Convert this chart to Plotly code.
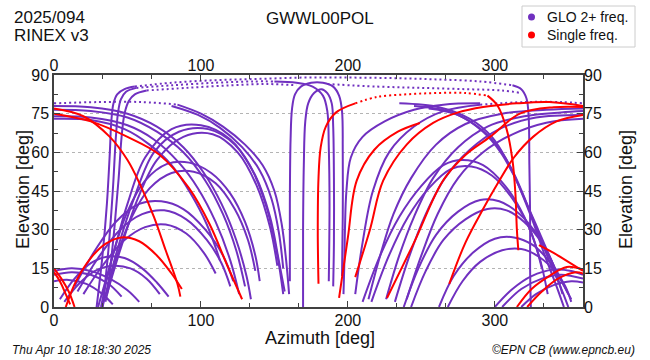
import plotly.graph_objects as go

PURPLE = "#7030c0"
RED = "#ff0000"
FONT = "Liberation Sans, Arial, sans-serif"

# ---- data: (azimuth deg, elevation deg) knots ----
glo_tracks = [
    [(0, 78), (25, 77.5), (50, 75), (70, 70), (88, 62), (102, 52), (114, 40), (124, 26), (131, 12), (134, 3)],
    [(0, 76.5), (25, 76), (50, 73.5), (70, 68), (88, 60), (103, 49), (115, 36), (124, 22), (130, 8)],
    [(0, 74), (25, 73.5), (50, 70.5), (68, 65), (85, 56), (98, 46), (110, 33), (120, 18), (126, 5)],
    [(0, 73), (25, 72.5), (48, 69), (65, 63), (80, 55), (93, 44), (104, 32), (113, 18)],
    [(84, 78.5), (100, 75), (115, 70), (130, 63), (142, 55), (150, 45), (155, 32), (158, 18), (160, 5)],
    [(80, 78), (98, 74.5), (113, 69.5), (128, 62), (140, 53), (148, 42), (153, 29), (156, 15)],
    [(29, 0), (33, 20), (36, 40), (38, 60), (39, 72), (40.5, 79), (43, 82.5), (48, 84.5), (55, 85.5)],
    [(312, 86), (318, 84.5), (321.5, 81), (323, 74), (323.5, 55), (324, 35), (324, 15), (324.5, 0)],
    [(33, 0), (37, 22), (40, 45), (42, 65), (43.5, 75), (45.5, 80.5), (49, 83.5), (56, 85)],
    [(37, 8), (41, 30), (44, 50), (46, 66), (48, 75), (51, 80), (55, 82.5), (63, 84)],
    # central overhead loops
    [(160.5, 10), (160.5, 40), (161, 65), (162, 77), (164, 82.5), (168, 85.5), (175, 87), (183, 87),
     (190, 85.5), (194, 82), (196, 76), (196.5, 60), (196.5, 35), (196, 12)],
    [(169.5, 0), (169.5, 30), (170, 55), (171, 72), (173, 79), (177, 83), (182, 84.5), (186, 83),
     (189, 79), (190, 70), (190.5, 50), (190.5, 25), (190, 8)],
    [(150, 87.5), (165, 87), (176, 85.5), (183, 82), (186, 76), (187, 62), (187.5, 40), (187, 10)],
    [(290, 79), (265, 78.5), (245, 76.5), (225, 72), (210, 66), (202, 58), (199, 45), (198, 30), (197.5, 15), (197, 5)],
    # left domes
    [(30, 0), (40, 20), (50, 40), (62, 58), (80, 69), (100, 70.5), (120, 65), (135, 53), (145, 38), (152, 20), (156, 5)],
    [(33, 0), (43, 22), (55, 43), (68, 60), (85, 68), (105, 69), (123, 63), (137, 51), (147, 35), (153, 18), (157, 6)],
    [(36, 5), (45, 22), (57, 42), (70, 57), (88, 66), (108, 67), (125, 60), (138, 47), (147, 31), (152, 16)],
    [(32, 0), (40, 20), (50, 37), (62, 49), (77, 55.5), (92, 56), (107, 52), (120, 44), (130, 33), (137, 20), (140, 10)],
    [(35, 2), (43, 20), (53, 35), (65, 46), (80, 52), (95, 52.5), (110, 48), (123, 38), (132, 26), (137, 14)],
    [(14, 8), (28, 22), (42, 33), (58, 40), (73, 41), (88, 38), (103, 30), (115, 20), (122, 10)],
    [(16, 6), (30, 19), (45, 30), (60, 36), (75, 37.5), (90, 34), (104, 26), (114, 17), (120, 8)],
    [(20, 5), (33, 16), (48, 26), (62, 31), (76, 32), (90, 28.5), (102, 21), (110, 13)],
    # left low arcs
    [(0, 14), (12, 15), (25, 14), (38, 11), (50, 6.5), (58, 2)],
    [(0, 12.5), (12, 13.5), (25, 12.5), (37, 9), (46, 4)],
    [(0, 10), (10, 10.5), (22, 9), (33, 5), (40, 1)],
    [(4, 3), (14, 11), (25, 17), (36, 19.5), (48, 19), (60, 15), (70, 9.5), (78, 4)],
    [(7, 2), (17, 9), (28, 14), (40, 16), (52, 15), (63, 11), (72, 5)],
    # right domes
    [(210, 2), (222, 20), (235, 35), (250, 47), (265, 55), (278, 57), (292, 55), (307, 47), (320, 35), (330, 20), (336, 5)],
    [(216, 2), (228, 20), (241, 35), (255, 46), (270, 53.5), (284, 54.5), (298, 51), (312, 42), (324, 30), (332, 15)],
    [(238, 0), (248, 15), (260, 28), (275, 37), (290, 41.5), (303, 41), (317, 36), (330, 27), (340, 16), (346, 5)],
    [(243, 0), (253, 14), (265, 26), (280, 34), (295, 38), (308, 37.5), (320, 33), (333, 24), (343, 12)],
    [(262, 0), (272, 12), (285, 21), (300, 26.5), (313, 27), (326, 24), (338, 17), (348, 8), (352, 2)],
    [(268, 0), (278, 10), (290, 17.5), (305, 22), (318, 22.5), (330, 19.5), (342, 13), (350, 5)],
    # right low arcs
    [(300, 0), (312, 7), (325, 12), (340, 14.5), (352, 14), (360, 12.5)],
    [(305, 0), (318, 7), (332, 11), (345, 12.5), (360, 11)],
    [(318, 0), (328, 5), (340, 8.5), (352, 10), (360, 9.5)],
    # rising to the north on the right
    [(226, 3), (235, 20), (245, 35), (258, 50), (275, 62), (295, 70), (320, 74), (345, 75.5), (360, 76)],
    [(232, 2), (242, 20), (253, 36), (266, 50), (283, 61), (303, 69), (328, 73.5), (360, 74.5)],
    [(240, 3), (250, 20), (261, 36), (275, 50), (292, 60), (312, 67), (335, 71.5), (360, 73)],
    [(214, 3), (222, 20), (231, 36), (243, 50), (260, 63), (280, 71), (305, 75), (335, 76.5), (360, 77)],
    [(205, 5), (210, 25), (217, 45), (228, 60), (245, 70), (265, 76), (290, 78.5)],
    # descending on the right
    [(235, 79), (262, 77.5), (283, 73), (298, 66), (309, 56), (317, 46), (326, 33), (334, 20), (342, 8), (347, 0)],
    [(245, 78), (268, 76), (287, 70.5), (301, 63), (311, 54), (319, 44), (328, 31), (337, 18), (346, 6), (350, 0)],
    [(255, 77), (275, 74.5), (292, 68), (304, 60), (313, 51), (321, 41), (331, 28), (341, 15), (352, 3)],
]

glo_dotted = [
    [(0, 79), (30, 79.5), (60, 79.5), (84, 78.5)],
    [(55, 85.5), (80, 87), (110, 88), (140, 88.5), (170, 89), (200, 89), (230, 88.8), (260, 88.3), (290, 87.5), (312, 86)],
    [(56, 85), (80, 86), (110, 87), (135, 87.5), (150, 87.5)],
    [(63, 84), (90, 85), (120, 86), (145, 86.5), (165, 86)],
    [(186, 86.5), (220, 85.5), (250, 85), (280, 84.5), (305, 84), (318, 83)],
    [(290, 78.5), (320, 79.5), (345, 79.5), (360, 79)],
]

single_tracks = [
    [(0, 77), (20, 74), (38, 66), (50, 57), (59, 47), (68, 35), (76, 22), (84, 9), (86, 4)],
    [(0, 75), (25, 72), (50, 66), (72, 59), (92, 46), (106, 32), (118, 16), (128, 3)],
    [(8, 0), (15, 10), (25, 19), (35, 24.5), (46, 27), (58, 25.5), (70, 20), (80, 13), (87, 7)],
    [(0, 15), (5, 11), (10, 6), (14, 0)],
    [(0, 13.5), (4, 10), (8, 5), (11, 1)],
    [(180, 9), (179.5, 30), (180, 50), (181.5, 62), (185, 70), (192, 75.5), (205, 79)],
    [(295, 82), (302, 78), (308, 69), (312, 57), (314, 44), (315, 30), (316, 22)],
    [(194, 3.5), (200, 27), (206, 49), (218, 61), (234, 68), (249, 71.4)],
    [(205, 11.6), (215, 30), (224, 49), (240, 63), (258, 71.4), (275, 75.5), (292, 77.6), (315, 79), (337, 79.5), (360, 78)],
    [(226.6, 3.5), (245, 25), (264.7, 49), (280, 59), (296.7, 66), (317, 75), (340, 77.5), (360, 77.6)],
    [(269, 9), (280, 25), (292, 38), (302, 48), (313, 58), (326, 66), (342, 72), (360, 74.5)],
    [(315, 0), (325, 7), (337, 12), (349, 15.5), (360, 14.5)],
    [(322, 0), (332, 6), (343, 11), (355, 13.5), (360, 13)],
    [(330, 24), (340, 21), (350, 17.5), (360, 14)],
]

single_dotted = [
    [(205, 79), (220, 81.5), (240, 82.5), (260, 83), (280, 83), (295, 82)],
]

az_ticks = [0, 100, 200, 300]
el_ticks = [0, 15, 30, 45, 60, 75, 90]
legend_names = ["GLO 2+ freq.", "Single freq."]

# ---- figure ----
fig = go.Figure()


def add_track(track, color, dotted=False):
    fig.add_trace(go.Scatter(
        x=[p[0] for p in track], y=[p[1] for p in track], mode="lines",
        line=dict(color=color, width=2, shape="spline", smoothing=1.0,
                  dash="2px,3px" if dotted else "solid"),
        showlegend=False, hoverinfo="skip"))


for t in glo_tracks:
    add_track(t, PURPLE)
for t in glo_dotted:
    add_track(t, PURPLE, dotted=True)
for t in single_tracks:
    add_track(t, RED)
for t in single_dotted:
    add_track(t, RED, dotted=True)

# dummy trace for the mirrored labelled axes
fig.add_trace(go.Scatter(x=[None], y=[None], xaxis="x2", yaxis="y2", showlegend=False))

W, H = 650, 360
L, R, T, B = 54, 583, 75, 307


def px(x):
    return (x - L) / (R - L)


def py(y):
    return (B - y) / (B - T)


tickfont = dict(family=FONT, size=16, color="#111")
axcol = "#404040"

fig.update_layout(
    width=W, height=H,
    margin=dict(l=L, r=W - R, t=T, b=H - B, pad=0, autoexpand=False),
    paper_bgcolor="white", plot_bgcolor="white",
    showlegend=False,
    xaxis=dict(range=[0, 360], tickvals=az_ticks, ticks="inside", ticklen=6, tickcolor=axcol,
               tickwidth=1, showline=True, linecolor=axcol, linewidth=1.5, mirror="allticks",
               showgrid=False, zeroline=False, tickfont=tickfont, automargin=False,
               minor=dict(dtick=100 / 3, tick0=0, ticks="inside", ticklen=4, tickcolor=axcol, showgrid=False)),
    yaxis=dict(range=[0, 90], tickvals=el_ticks, ticks="inside", ticklen=6, tickcolor=axcol,
               tickwidth=1, showline=True, linecolor=axcol, linewidth=1.5, mirror="allticks",
               showgrid=True, gridcolor="#b4b4b4", griddash="dot", gridwidth=1,
               zeroline=False, tickfont=tickfont, automargin=False,
               minor=dict(dtick=7.5, tick0=0, ticks="inside", ticklen=4, tickcolor=axcol, showgrid=False)),
    xaxis2=dict(range=[0, 360], tickvals=az_ticks, overlaying="x", side="top", anchor="y",
                ticks="", showline=False, showgrid=False, zeroline=False, tickfont=tickfont,
                automargin=False),
    yaxis2=dict(range=[0, 90], tickvals=el_ticks, overlaying="y", side="right", anchor="x",
                ticks="", showline=False, showgrid=False, zeroline=False, tickfont=tickfont,
                automargin=False),
)
try:
    fig.layout.xaxis.ticklabelstandoff = -2
except Exception:
    pass

ann = []


def text(x, y, s, size, xanchor="center", angle=0, italic=False):
    ann.append(dict(x=px(x), y=py(y), xref="paper", yref="paper", text=(f"<i>{s}</i>" if italic else s),
                    showarrow=False, xanchor=xanchor, yanchor="middle", textangle=angle,
                    font=dict(family=FONT, size=size, color="#111")))


text(12, 17, "2025/094", 17, "left")
text(12, 35, "RINEX v3", 17, "left")
text(320, 18, "GWWL00POL", 17)
text(320, 338, "Azimuth [deg]", 18)
text(23, 190, "Elevation [deg]", 18, angle=-90)
text(626, 190, "Elevation [deg]", 18, angle=-90)
text(10, 350, "Thu Apr 10 18:18:30 2025", 12, "left", italic=True)
text(637, 350, "©EPN CB (www.epncb.eu)", 12, "right", italic=True)

# legend
shapes = [dict(type="rect", xref="paper", yref="paper", x0=px(522), x1=px(635), y0=py(47), y1=py(6),
               line=dict(color="#cccccc", width=1), fillcolor="white", layer="above")]
for i, (name, col) in enumerate(zip(legend_names, [PURPLE, RED])):
    cy = 17 + i * 18
    shapes.append(dict(type="circle", xref="paper", yref="paper", x0=px(528), x1=px(535),
                       y0=py(cy + 3.5), y1=py(cy - 3.5), fillcolor=col, line=dict(color=col, width=0),
                       layer="above"))
    text(545, cy, name, 14, "left")

fig.update_layout(annotations=ann, shapes=shapes)
fig.write_html("out.html", config={"displayModeBar": False},
               post_script="document.body.style.margin='0px';document.body.style.overflow='hidden';")
